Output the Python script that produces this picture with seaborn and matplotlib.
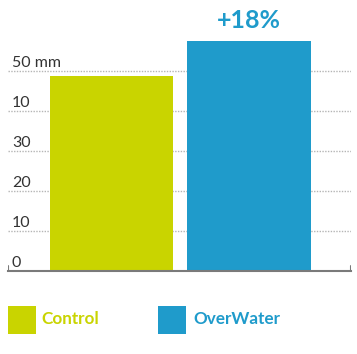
import matplotlib
matplotlib.use("Agg")
import matplotlib.pyplot as plt
import seaborn as sns
import pandas as pd
from matplotlib.patches import Rectangle

categories = ["Control", "OverWater"]
values = [48.7, 57.5]
colors = ["#C9D400", "#1F9BCB"]
tick_values = [0, 10, 20, 30, 40, 50]
tick_labels = ["0", "10", "20", "30", "10", "50 mm"]
annotation = "+18%"

sns.set_theme(style="white")
plt.rcParams['font.family'] = ['Lato', 'DejaVu Sans']

W, H = 357, 354
fig = plt.figure(figsize=(W / 100, H / 100), dpi=100)
base_px = 271
ax = fig.add_axes([8 / W, (H - base_px) / H, 343 / W, base_px / H])

df = pd.DataFrame({"cat": categories, "val": values})
sns.barplot(data=df, x="cat", y="val", hue="cat", palette=colors, width=0.9,
            legend=False, ax=ax, saturation=1, edgecolor="none", zorder=2)

ax.set_xlim(-0.752, 1.744)
ax.set_ylim(0, base_px / 4)
ax.set_xticks([])
ax.set_yticks([])
ax.set_xlabel("")
ax.set_ylabel("")
for s in ["left", "right", "top"]:
    ax.spines[s].set_visible(False)
ax.spines["bottom"].set_color("#7a7a7a")
ax.spines["bottom"].set_linewidth(1.5)
ax.patch.set_alpha(0)

for v, lab in zip(tick_values, tick_labels):
    if v > 0:
        ax.axhline(v, color="#b5b5b5", lw=1, ls=(0, (1, 1)), zorder=1)
    ax.text(4 / 343, v + 1.0, lab, transform=ax.get_yaxis_transform(),
            ha="left", va="baseline", fontsize=11.5, color="#333333")

ax.axvline(-0.752, ymin=0, ymax=5 / base_px, color="#7a7a7a", lw=1.5)
ax.axvline(1.744, ymin=0, ymax=5 / base_px, color="#7a7a7a", lw=1.5)

ax.text(1, values[1] + 3.3, annotation, ha="center", va="baseline",
        fontsize=18, fontweight="bold", color=colors[1], clip_on=False)

# legend
sq = 28
for x0, tx, lab, c in [(7.5, 41, categories[0], colors[0]), (158, 193, categories[1], colors[1])]:
    fig.add_artist(Rectangle((x0 / W, (H - 333.5) / H), sq / W, sq / H,
                             transform=fig.transFigure, color=c, lw=0))
    fig.text(tx / W, (H - 319.5) / H, lab, ha="left", va="center",
             fontsize=12.3, fontweight="bold", color=c)

fig.savefig("out.png", dpi=100)
